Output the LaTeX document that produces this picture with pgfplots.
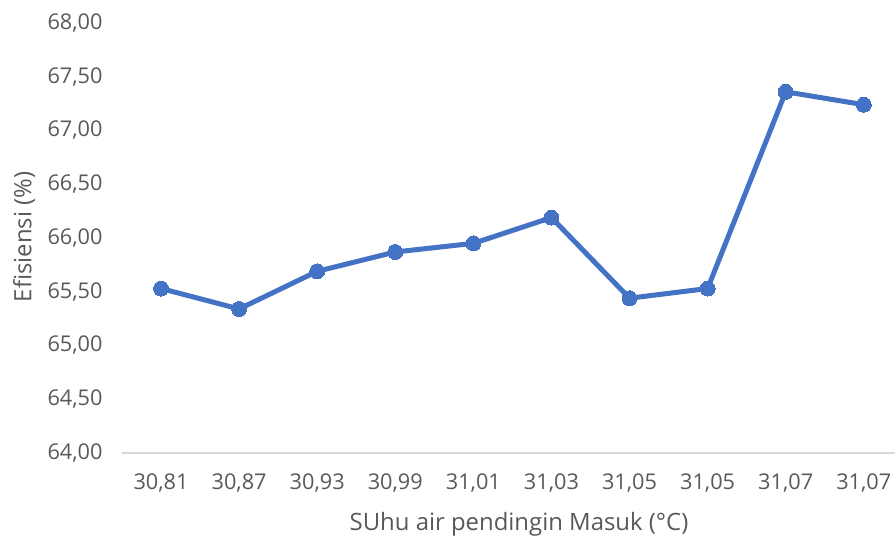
\documentclass[border=0pt]{standalone}
\usepackage{pgfplots}
\pgfplotsset{compat=1.18}
\usepackage{fontspec}
\setmainfont{Open Sans}
\definecolor{txt}{HTML}{595959}
\definecolor{ln}{HTML}{4472C4}
\definecolor{ax}{HTML}{D9D9D9}
\begin{document}
\begin{tikzpicture}[x=1pt,y=1pt]
\useasboundingbox (-122,-83) rectangle (773,453);
\begin{axis}[
  at={(0,0)}, anchor=south west,
  scale only axis, width=773pt, height=430pt,
  xmin=-0.5, xmax=9.4, ymin=64, ymax=68,
  axis x line=bottom, axis y line=left,
  x axis line style={draw=ax, line width=1.3pt, -},
  y axis line style={draw=none},
  xtick={0,...,9},
  xticklabels={{30,81},{30,87},{30,93},{30,99},{31,01},{31,03},{31,05},{31,05},{31,07},{31,07}},
  ytick={64,64.5,...,68},
  major tick length=0pt,
  clip=false,
  ticklabel style={font=\fontsize{21.7}{25}\selectfont, text=txt},
  yticklabel style={/pgf/number format/fixed, /pgf/number format/fixed zerofill, /pgf/number format/precision=2, /pgf/number format/use comma, /pgf/number format/assume math mode=true, xshift=-16pt},
  xticklabel style={yshift=-17pt},
]
\addplot[ln, line width=5pt, mark=*, mark size=7.5pt, mark options={fill=ln, draw=ln, line width=0pt}]
 coordinates {(0,65.53) (1,65.34) (2,65.69) (3,65.87) (4,65.95) (5,66.19) (6,65.44) (7,65.53) (8,67.36) (9,67.24)};
\end{axis}
\node[rotate=90, text=txt, font=\fontsize{23.9}{27}\selectfont] at (-98,216) {Efisiensi (\%)};
\node[text=txt, font=\fontsize{23.9}{27}\selectfont] at (397,-71) {SUhu air pendingin Masuk (°C)};
\end{tikzpicture}
\end{document}
